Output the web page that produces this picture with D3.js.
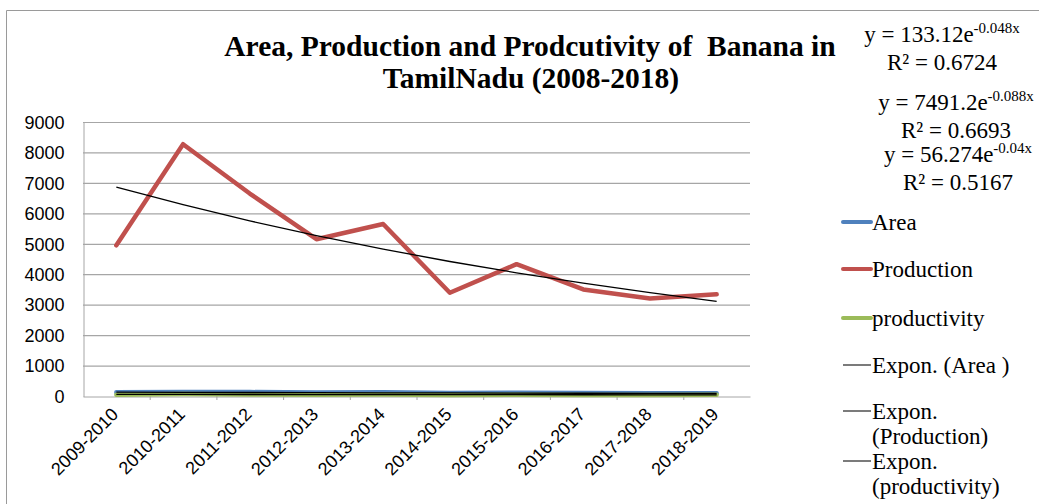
<!DOCTYPE html>
<html>
<head>
<meta charset="utf-8">
<script src="https://cdn.jsdelivr.net/npm/d3@7"></script>
<style>
  body { margin: 0; background: #fff; }
  svg { display: block; }
</style>
</head>
<body>
<svg id="chart" width="1039" height="504"></svg>
<script>
// years on the x axis
const years = ["2009-2010","2010-2011","2011-2012","2012-2013","2013-2014",
               "2014-2015","2015-2016","2016-2017","2017-2018","2018-2019"]
// series
const area = [126, 130, 128, 118, 121, 100, 104, 97, 92, 88]
const production = [4950, 8270, 6650, 5150, 5650, 3390, 4330, 3500, 3200, 3340]
const productivity = [39, 64, 52, 44, 47, 34, 42, 36, 35, 38]
// trendline coefficients printed on the chart (a * e^(b*x))
const trendA = [133.12, 7491.2, 56.274]
const trendB = [-0.048, -0.088, -0.04]
const trendR2 = ["0.6724", "0.6693", "0.5167"]
const yTicks = [0,1000,2000,3000,4000,5000,6000,7000,8000,9000]

const svg = d3.select("#chart")
const plotL = 83, plotR = 750, plotT = 122, plotB = 396
const serif = "'Liberation Serif', 'Times New Roman', serif"
const sans = "'Liberation Sans', Arial, sans-serif"

// chart frame
svg.append("path")
    .attr("d", "M6.5,504 V10.5 H1039")
    .style("fill", "none")
    .style("stroke", "#9a9a9a")
    .style("stroke-width", 1)

let x = d3.scaleBand().domain(years).range([plotL, plotR]).padding(0)
let y = d3.scaleLinear().domain([0, 9000]).range([plotB, plotT])
const cx = d => x(d) + x.bandwidth() / 2

// gridlines
svg.append("g")
    .selectAll("line")
    .data(yTicks.slice(1))
    .join("line")
    .attr("x1", plotL).attr("x2", plotR)
    .attr("y1", d => y(d) + 0.5).attr("y2", d => y(d) + 0.5)
    .style("stroke", "#a6a6a6")
    .style("stroke-width", 1.2)

// y axis
let yAxis = svg.append("g")
    .attr("transform", "translate(" + (plotL + 0.5) + ",0.5)")
    .call(d3.axisLeft(y).tickValues(yTicks).tickSize(0).tickPadding(19).tickFormat(d3.format("d")))
yAxis.select(".domain").style("stroke", "#a6a6a6")
yAxis.selectAll("text").style("font-family", sans).style("font-size", "18px").style("fill", "#000")

// x axis (ticks at category boundaries)
svg.append("g")
    .selectAll("line")
    .data(years.slice(1))
    .join("line")
    .attr("x1", d => x(d) + 0.5).attr("x2", d => x(d) + 0.5)
    .attr("y1", plotB).attr("y2", plotB + 4)
    .style("stroke", "#a6a6a6")
let xAxis = svg.append("g")
    .attr("transform", "translate(0," + (plotB + 0.5) + ")")
    .call(d3.axisBottom(x).tickSize(0))
xAxis.select(".domain").style("stroke", "#a6a6a6")
xAxis.selectAll("text")
    .style("font-family", sans).style("font-size", "18px").style("fill", "#000")
    .style("text-anchor", "end")
    .attr("y", 0).attr("dy", 0)
    .attr("transform", "translate(3,19) rotate(-45)")

// series
let line = d3.line().x((d, i) => cx(years[i])).y(d => y(d))
let series = [[area, "#4f81bd"], [productivity, "#9bbb59"], [production, "#c0504d"]]
series.forEach(([vals, col]) => {
    svg.append("path")
        .datum(vals)
        .attr("d", line)
        .style("fill", "none")
        .style("stroke", col)
        .style("stroke-width", 4.5)
        .style("stroke-linejoin", "round")
        .style("stroke-linecap", "round")
})

// exponential trendlines
trendA.forEach((a, k) => {
    let pts = years.map((_, i) => a * Math.exp(trendB[k] * (i + 1)))
    svg.append("path")
        .datum(pts)
        .attr("d", line)
        .style("fill", "none")
        .style("stroke", "#000")
        .style("stroke-width", 1.3)
})

// title
let title = svg.append("text")
    .attr("xml:space", "preserve")
    .style("font-family", serif).style("font-size", "29.5px").style("font-weight", "bold")
    .style("text-anchor", "middle")
    .style("white-space", "pre")
title.append("tspan").attr("x", 530).attr("y", 56).text("Area, Production and Prodcutivity of  Banana in")
title.append("tspan").attr("x", 531).attr("y", 88).text("TamilNadu (2008-2018)")

// trend equations
const eqPos = [[942, 42, 70], [956, 110, 138], [958, 162, 190]]
trendA.forEach((a, k) => {
    let [ex, ey, ry] = eqPos[k]
    let t = svg.append("text")
        .attr("x", ex).attr("y", ey)
        .style("font-family", serif).style("font-size", "23px")
        .style("text-anchor", "middle")
    t.append("tspan").text("y = " + a + "e")
    t.append("tspan").attr("dy", "-9").style("font-size", "15px").text(trendB[k] + "x")
    svg.append("text")
        .attr("x", ex).attr("y", ry)
        .style("font-family", serif).style("font-size", "23px")
        .style("text-anchor", "middle")
        .text("R² = " + trendR2[k])
})

// legend
const legendItems = [
    {label: ["Area"], color: "#4f81bd", w: 4, y: 222},
    {label: ["Production"], color: "#c0504d", w: 4, y: 269},
    {label: ["productivity"], color: "#9bbb59", w: 4, y: 318},
    {label: ["Expon. (Area )"], color: "#333", w: 1.3, y: 365},
    {label: ["Expon.", "(Production)"], color: "#333", w: 1.3, y: 411},
    {label: ["Expon.", "(productivity)"], color: "#333", w: 1.3, y: 461}
]
legendItems.forEach(it => {
    svg.append("line")
        .attr("x1", 843).attr("x2", 871)
        .attr("y1", it.y).attr("y2", it.y)
        .style("stroke", it.color)
        .style("stroke-width", it.w)
        .style("stroke-linecap", it.w > 2 ? "round" : "butt")
    it.label.forEach((s, j) => {
        svg.append("text")
            .attr("x", 872).attr("y", it.y + 8 + j * 25)
            .style("font-family", serif).style("font-size", "23px")
            .text(s)
    })
})
</script>
</body>
</html>
